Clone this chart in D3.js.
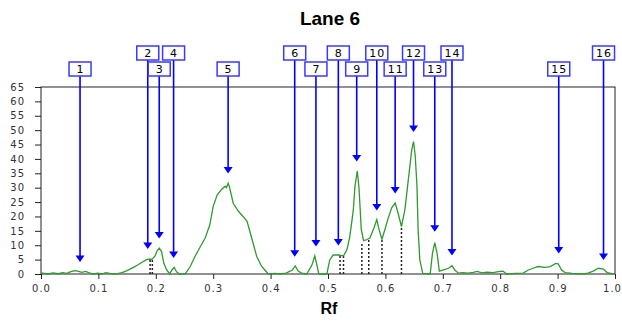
<!DOCTYPE html>
<html>
<head>
<meta charset="utf-8">
<script src="https://cdn.jsdelivr.net/npm/d3@7"></script>
<style>
  body { margin: 0; background: #fff; }
  svg text { font-family: "Liberation Sans", Arial, sans-serif; }
</style>
</head>
<body>
<div id="chart"></div>
<script>
// densitometer trace, [Rf, intensity]
var profile = [
  [0.000,0.4],[0.003,0.3],[0.012,0.0],[0.021,0.4],[0.030,0.1],[0.038,0.5],[0.045,0.2],
  [0.052,0.8],[0.059,1.2],[0.064,1.0],[0.071,0.6],[0.078,0.9],[0.084,0.4],[0.091,0.0],
  [0.099,0.3],[0.106,0.0],[0.113,0.5],[0.120,0.2],[0.127,0.0],[0.134,0.1],[0.141,0.5],
  [0.148,1.0],[0.155,1.7],[0.162,2.4],[0.169,3.2],[0.176,4.1],[0.184,5.0],[0.190,5.2],
  [0.193,5.0],[0.199,6.4],[0.202,8.0],[0.206,9.0],[0.210,7.8],[0.214,3.7],[0.219,1.4],
  [0.224,0.0],[0.228,1.4],[0.232,2.3],[0.236,0.8],[0.241,0.0],[0.251,0.0],[0.260,2.6],
  [0.268,6.0],[0.277,9.3],[0.286,12.5],[0.294,17.0],[0.300,23.5],[0.307,27.5],[0.315,29.5],
  [0.321,30.5],[0.323,30.0],[0.326,31.5],[0.328,30.5],[0.335,24.5],[0.344,21.8],[0.352,20.0],
  [0.359,18.3],[0.367,12.5],[0.376,6.0],[0.384,2.8],[0.390,1.4],[0.396,0.0],[0.408,0.2],
  [0.416,0.0],[0.427,0.3],[0.438,1.4],[0.443,2.8],[0.448,1.0],[0.454,0.3],[0.463,0.0],
  [0.472,3.1],[0.477,6.3],[0.480,3.7],[0.484,0.0],[0.498,0.0],[0.503,4.9],[0.509,6.6],
  [0.518,6.6],[0.527,6.3],[0.533,8.4],[0.538,13.0],[0.544,22.0],[0.547,30.5],[0.551,35.8],
  [0.554,30.0],[0.558,15.4],[0.562,11.6],[0.567,11.9],[0.573,12.5],[0.580,16.0],[0.585,18.9],
  [0.589,15.4],[0.594,12.1],[0.599,15.4],[0.605,19.5],[0.611,23.0],[0.617,24.7],[0.622,21.2],
  [0.628,16.5],[0.634,22.4],[0.640,32.9],[0.646,43.3],[0.649,46.0],[0.652,41.0],[0.655,30.5],
  [0.657,15.4],[0.660,4.9],[0.665,0.2],[0.678,0.0],[0.682,7.2],[0.686,10.9],[0.690,7.2],
  [0.694,1.0],[0.701,1.4],[0.710,2.0],[0.716,2.9],[0.721,1.4],[0.727,0.3],[0.735,0.5],
  [0.744,0.3],[0.753,0.6],[0.760,0.9],[0.768,0.4],[0.777,0.6],[0.787,0.5],[0.800,0.9],
  [0.805,1.0],[0.811,0.0],[0.826,0.2],[0.840,0.3],[0.849,1.4],[0.857,2.0],[0.866,2.6],
  [0.878,2.3],[0.887,2.6],[0.897,3.7],[0.901,3.5],[0.907,1.4],[0.913,0.5],[0.925,0.2],
  [0.944,0.0],[0.953,0.3],[0.962,1.0],[0.971,2.0],[0.980,1.7],[0.986,0.5],[0.997,0.0]
]

// peak markers
var peakLabels = ["1","2","3","4","5","6","7","8","9","10","11","12","13","14","15","16"]
var peakRf     = [0.068,0.186,0.206,0.231,0.326,0.442,0.479,0.518,0.550,0.585,0.617,0.649,0.686,0.716,0.902,0.980]
var arrowTip   = [4.2,8.7,12.3,5.6,34.9,6.0,9.6,9.9,39.1,22.1,28.0,49.4,14.7,6.4,7.1,4.9]

// peak boundaries (dotted drop lines)
var boundRf     = [0.190,0.194,0.521,0.527,0.559,0.571,0.594,0.628]
var boundHeight = [5.2,5.1,6.6,6.5,10.8,12.2,12.0,16.8]

var xTicks = d3.range(0, 1.01, 0.1)
var yTicks = d3.range(0, 66, 5)

var W = 622, H = 322
var margin = {top: 87, right: 7, bottom: 48, left: 41}
var width  = W - margin.left - margin.right,
    height = H - margin.top - margin.bottom

var svg = d3.select("#chart").append("svg")
  .attr("width", W)
  .attr("height", H)

var g = svg.append("g")
  .attr("transform", "translate(" + margin.left + "," + margin.top + ")")

var x = d3.scaleLinear().domain([0, 1]).range([0, width])
var y = d3.scaleLinear().domain([0, 65]).range([height, 0])

// frame
g.append("rect")
  .attr("width", width).attr("height", height)
  .attr("fill", "none").attr("stroke", "#222").attr("stroke-width", 1)

var xAxis = g.append("g")
  .attr("transform", "translate(0," + height + ")")
  .call(d3.axisBottom(x).tickValues(xTicks).tickFormat(d3.format(".1f")).tickSize(5).tickPadding(6))
var yAxis = g.append("g")
  .call(d3.axisLeft(y).tickValues(yTicks).tickSize(6).tickPadding(10))

;[xAxis, yAxis].forEach(a => {
  a.select(".domain").remove()
  a.selectAll("line").attr("stroke", "#222")
  a.selectAll("text").attr("fill", "#333").style("font-size", "10px")
    .style("letter-spacing", "1px")
    .style("font-family", "'DejaVu Sans', Verdana, sans-serif")
})
// keep the last x label inside the window
xAxis.selectAll("text").filter(d => d == 1).attr("dx", "-3px")

// dotted drop lines
g.selectAll("line.bound")
    .data(boundRf)
  .enter().append("line")
    .attr("class", "bound")
    .attr("x1", d => x(d)).attr("x2", d => x(d))
    .attr("y1", y(0)).attr("y2", (d, i) => y(boundHeight[i]))
    .attr("stroke", "#222")
    .attr("stroke-width", 1.5)
    .attr("stroke-dasharray", "2,2")

// trace
var line = d3.line()
  .x(d => x(d[0]))
  .y(d => y(d[1]))

g.append("path")
  .datum(profile)
  .attr("fill", "none")
  .attr("stroke", "#2f9a2f")
  .attr("stroke-width", 1.3)
  .attr("d", line)

// arrows + label boxes
var boxW = 22, boxH = 14
var rowTop = [-41, -25]   // upper / lower box row, relative to plot top

var peaks = peakLabels.map((l, i) => ({ label: l, rf: peakRf[i], tip: arrowTip[i], row: i % 2 == 0 ? 1 : 0 }))

var pg = svg.append("g")
  .attr("transform", "translate(" + margin.left + "," + margin.top + ")")
  .selectAll("g")
    .data(peaks)
  .enter().append("g")

pg.append("line")
  .attr("x1", d => x(d.rf)).attr("x2", d => x(d.rf))
  .attr("y1", d => rowTop[d.row] + boxH)
  .attr("y2", d => y(d.tip) - 6)
  .attr("stroke", "#0000ff")
  .attr("stroke-width", 1.6)

pg.append("path")
  .attr("d", d => {
    var cx = x(d.rf), ty = y(d.tip)
    return "M" + (cx - 4.5) + "," + (ty - 6.5) + "L" + (cx + 4.5) + "," + (ty - 6.5) + "L" + cx + "," + ty + "Z"
  })
  .attr("fill", "#0000ff")

pg.append("rect")
  .attr("x", d => x(d.rf) - boxW / 2)
  .attr("y", d => rowTop[d.row])
  .attr("width", boxW).attr("height", boxH)
  .attr("fill", "#fff")
  .attr("stroke", "#3a3aff")
  .attr("stroke-width", 1.5)

pg.append("text")
  .attr("x", d => x(d.rf) + 0.5)
  .attr("y", d => rowTop[d.row] + boxH / 2 + 4)
  .attr("text-anchor", "middle")
  .style("font-family", "'DejaVu Sans', Verdana, sans-serif")
  .style("font-size", "11px")
  .style("letter-spacing", "1px")
  .attr("fill", "#000")
  .text(d => d.label)

// titles
svg.append("text")
  .attr("x", 330).attr("y", 25)
  .attr("text-anchor", "middle")
  .style("font-size", "19px").style("font-weight", "bold")
  .text("Lane 6")

svg.append("text")
  .attr("x", 329).attr("y", 314)
  .attr("text-anchor", "middle")
  .style("font-size", "16px").style("font-weight", "bold")
  .text("Rf")
</script>
</body>
</html>
